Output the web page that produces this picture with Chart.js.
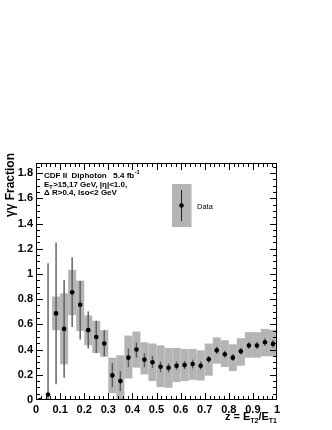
<!DOCTYPE html>
<html>
<head>
<meta charset="utf-8">
<script src="https://cdn.jsdelivr.net/npm/chart.js@4/dist/chart.umd.min.js"></script>
<style>
html,body{margin:0;padding:0;background:#fff;}
#wrap{width:332px;height:430px;}
</style>
</head>
<body>
<div id="wrap"><canvas id="c" width="332" height="430"></canvas></div>
<script>
// ---- data ----
const binCenters = [0.0167,0.05,0.0833,0.1167,0.15,0.1833,0.2167,0.25,0.2833,0.3167,0.35,0.3833,0.4167,0.45,0.4833,0.5167,0.55,0.5833,0.6167,0.65,0.6833,0.7167,0.75,0.7833,0.8167,0.85,0.8833,0.9167,0.95,0.9833];
const binWidth = 0.0333;
const fraction = [0.0,0.044,0.687,0.564,0.854,0.755,0.554,0.50,0.448,0.195,0.15,0.336,0.40,0.32,0.30,0.264,0.256,0.272,0.277,0.285,0.272,0.323,0.394,0.363,0.336,0.386,0.432,0.432,0.458,0.445];
const statLow  = [0.0,0.005,0.124,0.177,0.58,0.48,0.408,0.373,0.347,0.102,0.07,0.261,0.336,0.26,0.253,0.22,0.22,0.24,0.245,0.25,0.24,0.295,0.365,0.335,0.31,0.36,0.405,0.405,0.43,0.415];
const statHigh = [0.0,1.085,1.25,0.952,1.133,0.944,0.703,0.628,0.554,0.293,0.23,0.408,0.456,0.37,0.35,0.305,0.29,0.305,0.31,0.32,0.305,0.35,0.425,0.39,0.365,0.415,0.46,0.46,0.49,0.475];
const systLow  = [null,null,0.554,0.283,0.673,0.548,0.434,0.373,0.343,0.054,0.0,0.171,0.257,0.203,0.15,0.102,0.097,0.142,0.15,0.16,0.155,0.193,0.288,0.261,0.23,0.272,0.336,0.336,0.347,0.347];
const systHigh = [null,null,0.82,0.846,1.032,0.947,0.671,0.628,0.554,0.336,0.355,0.511,0.543,0.458,0.448,0.434,0.413,0.413,0.405,0.405,0.394,0.448,0.496,0.474,0.442,0.49,0.538,0.538,0.564,0.558];
const xTickValues = [0,0.1,0.2,0.3,0.4,0.5,0.6,0.7,0.8,0.9,1];
const yTickValues = [0,0.2,0.4,0.6,0.8,1,1.2,1.4,1.6,1.8];
const xRange = [0,1];
const yRange = [0,1.88];

const FONT = "'Liberation Sans', Arial, Helvetica, sans-serif";
const boxColor = '#b4b4b4';
const barColor = '#5a5a5a';

const points = binCenters.map((x,i)=>({x:x,y:fraction[i]}));

const drawPlugin = {
  id:'rootStyle',
  beforeDatasetsDraw(chart){
    const ctx = chart.ctx, xs = chart.scales.x, ys = chart.scales.y, a = chart.chartArea;
    ctx.save();
    ctx.beginPath(); ctx.rect(a.left,a.top,a.right-a.left,a.bottom-a.top); ctx.clip();
    ctx.fillStyle = boxColor;
    binCenters.forEach((c,i)=>{
      if (systLow[i]===null) return;
      const x0 = xs.getPixelForValue(c-binWidth/2), x1 = xs.getPixelForValue(c+binWidth/2);
      const y0 = ys.getPixelForValue(systHigh[i]), y1 = ys.getPixelForValue(systLow[i]);
      ctx.fillRect(x0,y0,x1-x0,y1-y0);
    });
    ctx.strokeStyle = barColor; ctx.lineWidth = 1.4;
    binCenters.forEach((c,i)=>{
      if (statHigh[i]-statLow[i] <= 0) return;
      const x = xs.getPixelForValue(c);
      ctx.beginPath();
      ctx.moveTo(x, ys.getPixelForValue(statLow[i]));
      ctx.lineTo(x, ys.getPixelForValue(statHigh[i]));
      ctx.stroke();
    });
    ctx.restore();
  },
  afterDraw(chart){
    const ctx = chart.ctx, xs = chart.scales.x, ys = chart.scales.y, a = chart.chartArea;
    ctx.save();
    ctx.fillStyle = '#000';
    const L0 = Math.round(a.left), R0 = Math.round(a.right)-1, T0 = Math.round(a.top), B0 = Math.round(a.bottom)-1;
    // frame
    ctx.fillRect(L0, T0, R0-L0+1, 1);
    ctx.fillRect(L0, B0, R0-L0+1, 1);
    ctx.fillRect(L0, T0, 1, B0-T0+1);
    ctx.fillRect(R0, T0, 1, B0-T0+1);
    // inward ticks
    const majLen = 7, minLen = 4;
    for (let k=0;k<=50;k++){
      const v = xRange[0] + k*0.02;
      const px = Math.min(R0, Math.round(xs.getPixelForValue(v)));
      const L = (k%5===0)?majLen:minLen;
      ctx.fillRect(px, B0-L+1, 1, L);
      ctx.fillRect(px, T0, 1, L);
    }
    for (let k=0;k*0.05<=yRange[1]+1e-9;k++){
      const v = k*0.05;
      const py = Math.min(B0, Math.round(ys.getPixelForValue(v)));
      const L = (k%4===0)?majLen:minLen;
      ctx.fillRect(L0, py, L, 1);
      ctx.fillRect(R0-L+1, py, L, 1);
    }

    ctx.textBaseline = 'alphabetic';
    // y axis title
    ctx.save();
    ctx.translate(13.5, 153);
    ctx.rotate(-Math.PI/2);
    ctx.textAlign = 'right';
    ctx.font = 'bold 12px ' + FONT;
    ctx.fillText('\u03b3\u03b3 Fraction', 0, 0);
    ctx.restore();

    // x axis title
    const parts = [
      {t:'z = E', f:'bold 11px '+FONT, dy:0},
      {t:'T2', f:'bold 7px '+FONT, dy:3},
      {t:'/E', f:'bold 11px '+FONT, dy:0},
      {t:'T1', f:'bold 7px '+FONT, dy:3}
    ];
    let tw = 0;
    parts.forEach(p=>{ctx.font=p.f; tw += ctx.measureText(p.t).width;});
    let cx = a.right - tw, by = 420;
    ctx.textAlign='left';
    parts.forEach(p=>{ctx.font=p.f; ctx.fillText(p.t, cx, by+p.dy); cx += ctx.measureText(p.t).width;});

    // info text
    const tf = 'bold 8px ' + FONT;
    ctx.font = tf;
    let x = 44;
    const l1 = 'CDF II  Diphoton   5.4 fb';
    ctx.fillText(l1, x, 178);
    let w = ctx.measureText(l1).width;
    ctx.font = 'bold 5.5px ' + FONT;
    ctx.fillText('-1', x + w + 0.5, 174);
    ctx.font = tf;
    ctx.fillText('E', x, 186.5);
    w = ctx.measureText('E').width;
    ctx.font = 'bold 5.5px ' + FONT;
    ctx.fillText('T', x + w, 188.5);
    let w2 = ctx.measureText('T').width;
    ctx.font = tf;
    ctx.fillText('>15,17 GeV, |\u03b7|<1.0,', x + w + w2 + 0.5, 186.5);
    ctx.fillText('\u0394 R>0.4, Iso<2 GeV', x, 195);

    // legend
    ctx.fillStyle = boxColor;
    ctx.fillRect(172, 184, 19.5, 43);
    ctx.strokeStyle = '#222'; ctx.lineWidth = 1;
    ctx.beginPath(); ctx.moveTo(181.5, 190); ctx.lineTo(181.5, 221); ctx.stroke();
    ctx.fillStyle = '#000';
    ctx.beginPath(); ctx.arc(181.5, 205.5, 2.2, 0, Math.PI*2); ctx.fill();
    ctx.font = '7.5px ' + FONT;
    ctx.fillText('Data', 197, 208.5);
    ctx.restore();
  }
};

const fmt = v => String(Math.round(v*10)/10);

new Chart(document.getElementById('c'), {
  type:'scatter',
  data:{datasets:[{
    label:'Data',
    data:points,
    pointRadius:2.3,
    pointHoverRadius:2.3,
    pointBackgroundColor:'#000',
    pointBorderColor:'#000',
    pointBorderWidth:0,
    showLine:false
  }]},
  options:{
    responsive:false,
    animation:false,
    devicePixelRatio:1,
    events:[],
    layout:{padding:{top:163, right:55, bottom:10, left:0}},
    plugins:{legend:{display:false}, tooltip:{enabled:false}, title:{display:false}},
    scales:{
      x:{
        type:'linear', min:xRange[0], max:xRange[1],
        grid:{display:false, drawTicks:false},
        border:{display:false},
        afterBuildTicks:s=>{s.ticks = xTickValues.map(v=>({value:v}));},
        afterFit:s=>{s.height = 20;},
        ticks:{padding:3, maxRotation:0, autoSkip:false, color:'#000',
          font:{family:FONT, size:11, weight:'bold'}, callback:fmt}
      },
      y:{
        type:'linear', min:yRange[0], max:yRange[1],
        grid:{display:false, drawTicks:false},
        border:{display:false},
        afterBuildTicks:s=>{s.ticks = yTickValues.map(v=>({value:v}));},
        afterFit:s=>{s.width = 36;},
        ticks:{padding:3, autoSkip:false, color:'#000',
          font:{family:FONT, size:11, weight:'bold'}, callback:fmt}
      }
    }
  },
  plugins:[drawPlugin]
});
</script>
</body>
</html>
